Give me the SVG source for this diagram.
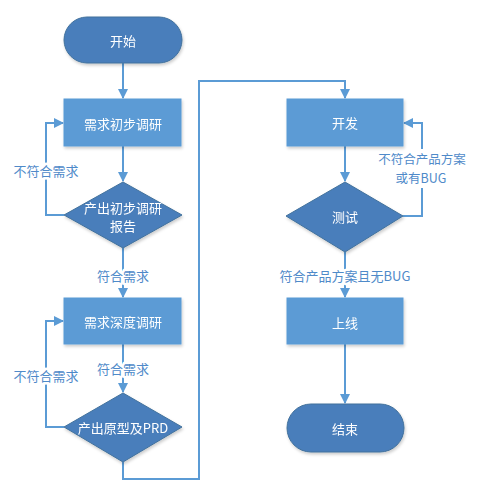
<svg xmlns="http://www.w3.org/2000/svg" width="480" height="500" viewBox="0 0 480 500">
<defs>
<style>
.term{fill:#4A7EBB;stroke:#41719C;stroke-width:1}
.proc{fill:#5B9BD5;stroke:#5B9BD5;stroke-width:1}
.dec{fill:#4A7EBB;stroke:#41719C;stroke-width:1}
.nt{font-family:"Noto Sans CJK SC","Liberation Sans",sans-serif;font-size:13px;fill:#ffffff;text-anchor:middle;dominant-baseline:central}
.lbl{font-family:"Noto Sans CJK SC","Liberation Sans",sans-serif;font-size:13px;fill:#4F8AC9;text-anchor:middle;dominant-baseline:central;stroke:#ffffff;stroke-width:5px;paint-order:stroke;stroke-linejoin:round}
.lbl2{font-family:"Noto Sans CJK SC","Liberation Sans",sans-serif;font-size:12.5px;fill:#4F8AC9;text-anchor:middle;dominant-baseline:central}
.ln{fill:none;stroke:#5B9BD5;stroke-width:2}
</style>
<marker id="ah" markerWidth="10" markerHeight="10" refX="9" refY="5" orient="auto" markerUnits="userSpaceOnUse" viewBox="0 0 10 10">
<path d="M0,0 L10,5 L0,10 Z" fill="#5B9BD5"/>
</marker>
<filter id="sh" x="-10%" y="-10%" width="130%" height="140%">
<feDropShadow dx="1" dy="2" stdDeviation="1.5" flood-color="#000" flood-opacity="0.2"/>
</filter>
</defs>
<rect width="480" height="500" fill="#ffffff"/>
<g id="connectors">
<path class="ln" d="M123,63 V98" marker-end="url(#ah)"/>
<path class="ln" d="M123,146 V181" marker-end="url(#ah)"/>
<path class="ln" d="M64,215 H46 V123 H63" marker-end="url(#ah)"/>
<path class="ln" d="M123,248 V297" marker-end="url(#ah)"/>
<path class="ln" d="M123,344 V392" marker-end="url(#ah)"/>
<path class="ln" d="M64,427 H46 V321 H63" marker-end="url(#ah)"/>
<path class="ln" d="M123,462 V479 H199 V81 H345 V98" marker-end="url(#ah)"/>
<path class="ln" d="M345,146 V181" marker-end="url(#ah)"/>
<path class="ln" d="M403,216 H422 V123 H404" marker-end="url(#ah)"/>
<path class="ln" d="M345,252 V297" marker-end="url(#ah)"/>
<path class="ln" d="M345,344 V403" marker-end="url(#ah)"/>
<text class="lbl" x="46" y="170">不符合需求</text>
<text class="lbl" x="123" y="275">符合需求</text>
<text class="lbl" x="123" y="368">符合需求</text>
<text class="lbl" x="46" y="375">不符合需求</text>
<rect x="374" y="149" width="96" height="39" fill="#ffffff"/>
<text class="lbl2" x="422" y="158.5">不符合产品方案</text>
<text class="lbl2" x="421" y="177.5">或有BUG</text>
<text class="lbl" x="345" y="275">符合产品方案且无BUG</text>
</g>
<g id="start" filter="url(#sh)">
<rect class="term" x="64" y="17" width="118" height="46" rx="23"/>
<text class="nt" x="123" y="40">开始</text>
</g>
<g id="research1" filter="url(#sh)">
<rect class="proc" x="64" y="99" width="117" height="47"/>
<text class="nt" x="123" y="123">需求初步调研</text>
</g>
<g id="report" filter="url(#sh)">
<polygon class="dec" points="123,182 182,215 123,248 64,215"/>
<text class="nt" x="123" y="207">产出初步调研</text>
<text class="nt" x="123" y="225">报告</text>
</g>
<g id="research2" filter="url(#sh)">
<rect class="proc" x="64" y="298" width="117" height="46"/>
<text class="nt" x="123" y="321">需求深度调研</text>
</g>
<g id="prd" filter="url(#sh)">
<polygon class="dec" points="123,393 182,427 123,462 64,427"/>
<text class="nt" x="123" y="427">产出原型及PRD</text>
</g>
<g id="develop" filter="url(#sh)">
<rect class="proc" x="287" y="99" width="116" height="47"/>
<text class="nt" x="345" y="122">开发</text>
</g>
<g id="test" filter="url(#sh)">
<polygon class="dec" points="345,182 403,216 345,252 286,216"/>
<text class="nt" x="345" y="216">测试</text>
</g>
<g id="release" filter="url(#sh)">
<rect class="proc" x="287" y="298" width="116" height="46"/>
<text class="nt" x="345" y="322">上线</text>
</g>
<g id="end" filter="url(#sh)">
<rect class="term" x="287" y="404" width="117" height="48" rx="24"/>
<text class="nt" x="345" y="428">结束</text>
</g>
</svg>
